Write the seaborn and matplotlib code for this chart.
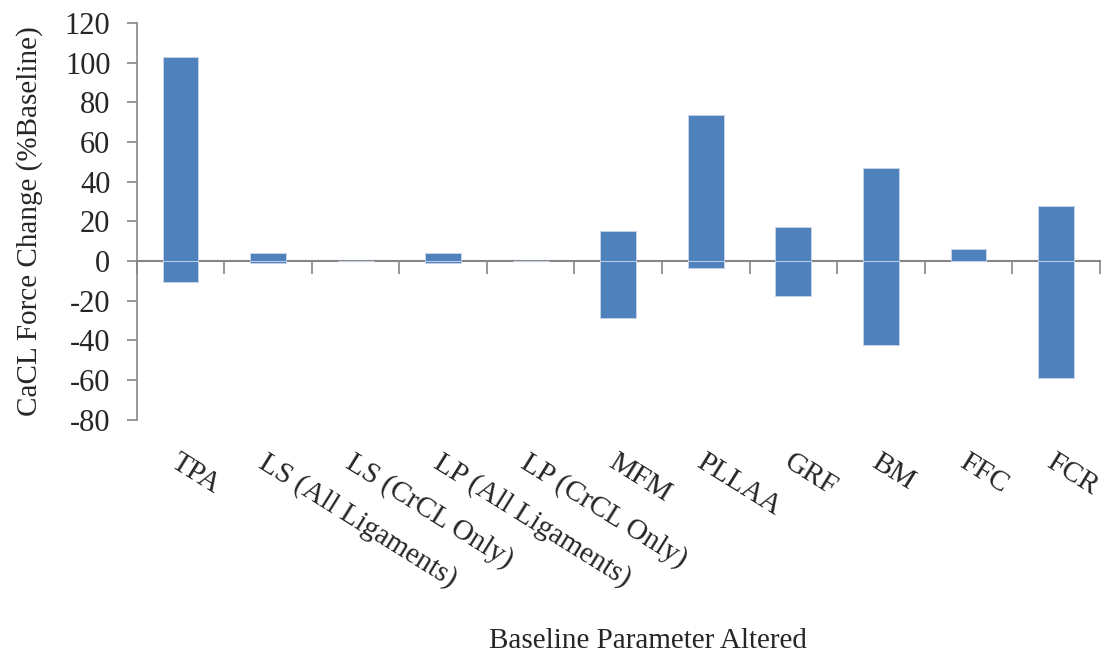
import pandas as pd
import seaborn as sns
import matplotlib.pyplot as plt

# categories and the high / low end of each floating bar (% of baseline)
params = ['TPA', 'LS (All Ligaments)', 'LS (CrCL Only)', 'LP (All Ligaments)',
          'LP (CrCL Only)', 'MFM', 'PLLAA', 'GRF', 'BM', 'FFC', 'FCR']
high = [103, 4.2, 0, 4.2, 0, 15.2, 73.5, 17.0, 47.1, 6.2, 27.9]
low = [-10.5, -1.2, 0, -1.2, 0, -28.7, -3.7, -17.8, -42.1, 0, -58.8]

df = pd.DataFrame({'Parameter': params, 'High': high, 'Low': low})

sns.set_style('white')
plt.rcParams['font.family'] = ['Liberation Serif', 'DejaVu Serif']
plt.rcParams['axes.unicode_minus'] = False

fig = plt.figure(figsize=(11.12, 6.61), dpi=100)
ax = fig.add_axes([0.123, 0.365, 0.866, 0.600])

bar_color = '#4F81BD'
gray = '#868686'
sns.barplot(data=df, x='Parameter', y='High', order=params, color=bar_color,
            width=0.41, saturation=1, edgecolor='#c9d6ea', linewidth=0.6, ax=ax)
sns.barplot(data=df, x='Parameter', y='Low', order=params, color=bar_color,
            width=0.41, saturation=1, edgecolor='#c9d6ea', linewidth=0.6, ax=ax)

ymin, ymax = -80, 120
ax.set_ylim(ymin, ymax)
ax.set_xlim(-0.5, len(params) - 0.5)
ax.set_yticks(range(-80, 121, 20))
ax.tick_params(axis='y', direction='out', length=7, width=1.2, color=gray,
               labelsize=22, pad=12, left=True)

# category labels along the bottom, slanted
ax.set_xticks(range(len(params)))
ax.set_xticklabels(params, rotation=-32, ha='left', va='top',
                   rotation_mode='anchor', fontsize=21)
ax.tick_params(axis='x', length=0, pad=21)

for s in ['top', 'right', 'bottom']:
    ax.spines[s].set_visible(False)
ax.spines['left'].set_color(gray)
ax.spines['left'].set_linewidth(1.2)

# horizontal axis line at zero with ticks between categories
zero = (0 - ymin) / (ymax - ymin)
sec = ax.secondary_xaxis(zero)
sec.set_xticks([i - 0.5 for i in range(len(params) + 1)])
sec.set_xticklabels([])
sec.tick_params(direction='out', length=9, width=1.2, color=gray)
sec.spines['bottom'].set_color(gray)
sec.spines['bottom'].set_linewidth(1.5)

ax.set_xlabel('')
ax.set_ylabel('CaCL Force Change (%Baseline)', fontsize=21, labelpad=16)
fig.text(0.583, 0.03, 'Baseline Parameter Altered', fontsize=21,
         ha='center', va='center')

fig.savefig('out.png', dpi=100)
